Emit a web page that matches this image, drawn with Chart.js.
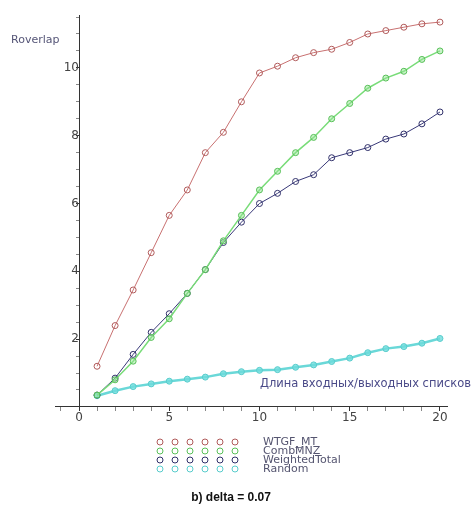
<!DOCTYPE html>
<html>
<head>
<meta charset="utf-8">
<script src="https://cdn.jsdelivr.net/npm/chart.js@4/dist/chart.umd.min.js"></script>
<style>
  html, body { margin: 0; padding: 0; background: #fff; }
  #wrap { width: 476px; height: 510px; }
</style>
</head>
<body>
<div id="wrap"><canvas id="chart" width="476" height="510"></canvas></div>
<script>
// list length (x) and Roverlap values
const sizes = [1, 2, 3, 4, 5, 6, 7, 8, 9, 10, 11, 12, 13, 14, 15, 16, 17, 18, 19, 20]
const wtgfMt = [1.2, 2.4, 3.45, 4.55, 5.65, 6.4, 7.5, 8.1, 9.0, 9.85, 10.05, 10.3, 10.45, 10.55, 10.75, 11.0, 11.1, 11.2, 11.3, 11.35]
const combMnz = [0.35, 0.8, 1.35, 2.05, 2.6, 3.35, 4.05, 4.9, 5.65, 6.4, 6.95, 7.5, 7.95, 8.5, 8.95, 9.4, 9.7, 9.9, 10.25, 10.5]
const weightedTotal = [0.35, 0.85, 1.55, 2.2, 2.75, 3.35, 4.05, 4.85, 5.45, 6.0, 6.3, 6.65, 6.85, 7.35, 7.5, 7.65, 7.9, 8.05, 8.35, 8.7]
const random = [0.33, 0.48, 0.6, 0.68, 0.76, 0.82, 0.88, 0.98, 1.04, 1.08, 1.1, 1.17, 1.24, 1.34, 1.44, 1.6, 1.72, 1.78, 1.88, 2.02]

const seriesNames = ["WTGF_MT", "CombMNZ", "WeightedTotal", "Random"]
const xTicks = [0, 5, 10, 15, 20]
const yTicks = [2, 4, 6, 8, 10]
const yLabel = "Roverlap"
const xLabel = "Длина входных/выходных списков"
const caption = "b) delta = 0.07"

const styles = [
  { line: "#c87070", point: "#b05a5a", fill: "rgba(255,255,255,0)", width: 1 },
  { line: "#78dc78", point: "#58c058", fill: "rgba(150,230,150,0.5)", width: 1.5 },
  { line: "#383878", point: "#30306a", fill: "rgba(255,255,255,0)", width: 1 },
  { line: "#6ad8d8", point: "#58cccc", fill: "rgba(110,220,220,0.8)", width: 2.5 },
]

const values = [wtgfMt, combMnz, weightedTotal, random]

const datasets = values.map((vals, i) => ({
  label: seriesNames[i],
  data: vals.map((v, j) => ({ x: sizes[j], y: v })),
  borderColor: styles[i].line,
  borderWidth: styles[i].width,
  pointStyle: "circle",
  pointRadius: 3,
  pointBorderWidth: 1,
  pointBorderColor: styles[i].point,
  pointBackgroundColor: styles[i].fill,
  tension: 0,
}))

// major ticks get a label, minor ticks (every 1 on x, 0.5 on y) stay blank
function withMinor(major, from, to, step) {
  const list = []
  for (let v = from; v <= to + 1e-9; v += step) {
    const value = Math.round(v * 100) / 100
    list.push({ value: value, major: major.includes(value) })
  }
  return list
}

// draws the axis captions, the stacked legend and the figure caption
const decorations = {
  id: "decorations",
  afterDraw(chart) {
    const ctx = chart.ctx
    ctx.save()
    ctx.textBaseline = "middle"
    ctx.textAlign = "left"
    ctx.font = "11px 'DejaVu Sans'"
    ctx.fillStyle = "#555577"
    ctx.fillText(yLabel, 11, 40)

    ctx.font = "11.5px 'DejaVu Sans'"
    ctx.fillStyle = "#4a4a88"
    ctx.fillText(xLabel, 260, 384)

    const rows = [442, 451, 460, 469]
    const cols = [160, 175, 190, 205, 220, 235]
    seriesNames.forEach((name, i) => {
      ctx.strokeStyle = styles[i].point
      ctx.lineWidth = 1
      cols.forEach((cx) => {
        ctx.beginPath()
        ctx.arc(cx, rows[i], 3, 0, Math.PI * 2)
        ctx.stroke()
      })
      ctx.font = "11px 'DejaVu Sans'"
      ctx.fillStyle = "#555570"
      ctx.fillText(name, 263, rows[i])
    })

    ctx.textAlign = "center"
    ctx.font = "bold 12px 'Liberation Sans'"
    ctx.fillStyle = "#111"
    ctx.fillText(caption, 231, 498)
    ctx.restore()
  }
}

const tickFont = { size: 12, family: "'DejaVu Sans'" }

const ctx = document.getElementById("chart").getContext("2d")
new Chart(ctx, {
  type: "line",
  data: { datasets: datasets },
  options: {
    responsive: false,
    animation: false,
    layout: { padding: { left: 55, right: 29, top: 15, bottom: 100 } },
    plugins: {
      legend: { display: false },
      tooltip: { enabled: false },
    },
    scales: {
      x: {
        type: "linear",
        min: -1.33,
        max: 20.39,
        position: { y: 0 },
        afterBuildTicks: (scale) => { scale.ticks = withMinor(xTicks, -1, 20, 1) },
        grid: {
          drawOnChartArea: false,
          tickLength: 4,
          tickColor: (c) => (c.tick && c.tick.major ? "#333" : "#888"),
        },
        border: { color: "#333", width: 1 },
        ticks: {
          color: "#444",
          font: tickFont,
          padding: 0,
          autoSkip: false,
          maxRotation: 0,
          callback: (v) => (xTicks.includes(v) ? String(v) : ""),
        },
      },
      y: {
        type: "linear",
        min: -0.09,
        max: 11.56,
        position: { x: 0 },
        afterBuildTicks: (scale) => { scale.ticks = withMinor(yTicks, 0.5, 11.5, 0.5) },
        grid: {
          drawOnChartArea: false,
          tickLength: 3,
          tickColor: (c) => (c.tick && c.tick.major ? "#333" : "#888"),
        },
        border: { color: "#333", width: 1 },
        ticks: {
          color: "#444",
          font: tickFont,
          padding: 2,
          autoSkip: false,
          callback: (v) => (yTicks.includes(v) ? String(v) : ""),
        },
      },
    },
  },
  plugins: [decorations],
})
</script>
</body>
</html>
